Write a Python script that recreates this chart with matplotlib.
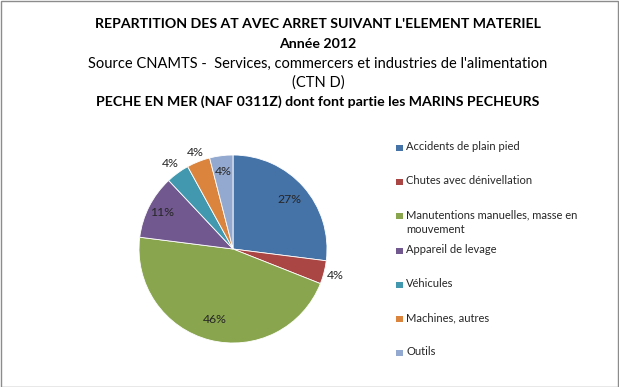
import numpy as np
import matplotlib
matplotlib.use("Agg")
import matplotlib.pyplot as plt
from matplotlib.patches import Rectangle

categories = [
    "Accidents de plain pied",
    "Chutes avec dénivellation",
    "Manutentions manuelles, masse en\nmouvement",
    "Appareil de levage",
    "Véhicules",
    "Machines, autres",
    "Outils",
]
values = [27, 4, 46, 11, 4, 4, 4]
colors = ["#4572A7", "#AA4643", "#89A54E", "#71588F", "#4198AF", "#DB843D", "#93A9CF"]
# radial position of each percentage label (fraction of radius)
label_r = [0.80, 1.12, 0.77, 0.85, 1.13, 1.10, 0.83]

title_lines = [
    ("REPARTITION DES AT AVEC ARRET SUIVANT L'ELEMENT MATERIEL", "bold"),
    ("Année 2012", "bold"),
    ("Source CNAMTS -  Services, commercers et industries de l'alimentation", "normal"),
    ("(CTN D)", "normal"),
    ("PECHE EN MER (NAF 0311Z) dont font partie les MARINS PECHEURS", "bold"),
]

plt.rcParams['font.family'] = ['Lato', 'DejaVu Sans']

W, H = 619, 387
fig = plt.figure(figsize=(W / 100, H / 100), dpi=100)
fig.patches.append(Rectangle((0.5 / W, 0.5 / H), 1 - 1.5 / W, 1 - 1.5 / H,
                             transform=fig.transFigure, fill=False,
                             edgecolor="#8C8C8C", linewidth=1.0))

# title
title_y = [24, 44, 64, 83, 102]
for (txt, wt), yp in zip(title_lines, title_y):
    fig.text(318 / W, 1 - yp / H, txt, ha="center", va="center",
             fontsize=10.2 if wt == "bold" else 10.5, fontweight=wt, color="black")

# pie
cx, cy, r = 233, 249, 94
ax = fig.add_axes([(cx - r) / W, 1 - (cy + r) / H, 2 * r / W, 2 * r / H])
wedges, _ = ax.pie(values, colors=colors, startangle=90, counterclock=False,
                   radius=1, wedgeprops=dict(edgecolor="white", linewidth=0.6))
ax.set_xlim(-1, 1)
ax.set_ylim(-1, 1)
ax.set_aspect("equal")
ax.axis("off")

total = sum(values)
for w, v, lr in zip(wedges, values, label_r):
    ang = np.deg2rad((w.theta1 + w.theta2) / 2)
    ax.text(lr * np.cos(ang), lr * np.sin(ang), f"{v / total * 100:.0f}%",
            ha="center", va="center", fontsize=8.8, color="#262626", clip_on=False)

# legend
for i, (lab, col) in enumerate(zip(categories, colors)):
    yp = 148 + 34.2 * i
    fig.patches.append(Rectangle((396 / W, 1 - (yp + 3) / H), 7 / W, 6 / H,
                                 transform=fig.transFigure, facecolor=col,
                                 edgecolor="none"))
    fig.text(406 / W, 1 - (yp - 7) / H, lab, ha="left", va="top",
             fontsize=8, color="#262626", linespacing=1.35)

fig.savefig("out.png", dpi=100)
